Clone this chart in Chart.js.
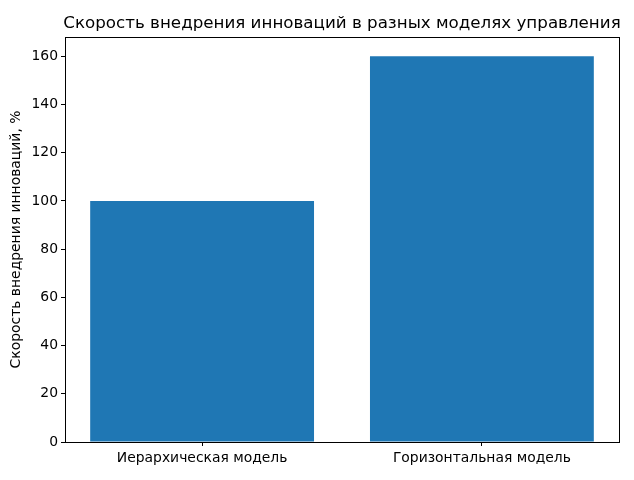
<!DOCTYPE html>
<html><head><meta charset="utf-8">
<script src="https://cdn.jsdelivr.net/npm/chart.js@4.4.0/dist/chart.umd.min.js"></script>
<style>html,body{margin:0;padding:0;background:#fff}#wrap{width:634px;height:480px}</style>
</head><body><div id="wrap"><canvas id="c" width="634" height="480"></canvas></div>
<script>
const categories = ["Иерархическая модель", "Горизонтальная модель"];
const values = [100, 160];
const yTicks = [0, 20, 40, 60, 80, 100, 120, 140, 160];
const titleText = "Скорость внедрения инноваций в разных моделях управления";
const yLabel = "Скорость внедрения инноваций, %";

const FONT = "'DejaVu Sans', sans-serif";
const frame = {
  id: 'frame',
  afterDatasetsDraw(chart) {
    const a = chart.chartArea, ctx = chart.ctx;
    ctx.save();
    ctx.strokeStyle = '#000'; ctx.lineWidth = 1;
    ctx.strokeRect(Math.round(a.left) + 0.5, Math.round(a.top) + 0.5, Math.round(a.right - a.left), Math.round(a.bottom - a.top));
    ctx.fillStyle = '#000';
    ctx.font = "16.7px " + FONT;
    ctx.textAlign = 'center'; ctx.textBaseline = 'alphabetic';
    ctx.fillText(titleText, (a.left + a.right) / 2, 28);
    ctx.restore();
  }
};
new Chart(document.getElementById('c'), {
  type: 'bar',
  data: {
    datasets: [{
      data: values.map((v, i) => ({x: i, y: v})),
      backgroundColor: '#1f77b4',
      borderWidth: 0,
      barPercentage: 0.8,
      categoryPercentage: 1.0
    }]
  },
  options: {
    responsive: false, animation: false, devicePixelRatio: 1,
    layout: {padding: {left: 7, right: 15, top: 37, bottom: 0}},
    plugins: {
      legend: {display: false}, tooltip: {enabled: false}, title: {display: false}
    },
    scales: {
      x: {
        type: 'linear', min: -0.49, max: 1.49, offset: false,
        afterBuildTicks: s => { s.ticks = categories.map((c, i) => ({value: i})); },
        afterFit: s => { s.height = 38; },
        ticks: {callback: v => categories[v], color: '#000', font: {family: FONT, size: 13.9}, padding: 4, maxRotation: 0, autoSkip: false},
        grid: {drawOnChartArea: false, offset: false, tickLength: 4, color: '#000'},
        border: {display: true, color: '#000'}
      },
      y: {
        min: 0, max: 168,
        afterBuildTicks: s => { s.ticks = yTicks.map(v => ({value: v})); },
        afterFit: s => { s.width = 58; },
        ticks: {color: '#000', font: {family: FONT, size: 13.9}, padding: 3},
        grid: {drawOnChartArea: false, tickLength: 4, color: '#000'},
        border: {display: true, color: '#000'},
        title: {display: true, text: yLabel, color: '#000', font: {family: FONT, size: 13.9}, padding: {top: 1, bottom: 0}}
      }
    }
  },
  plugins: [frame]
});
</script></body></html>
